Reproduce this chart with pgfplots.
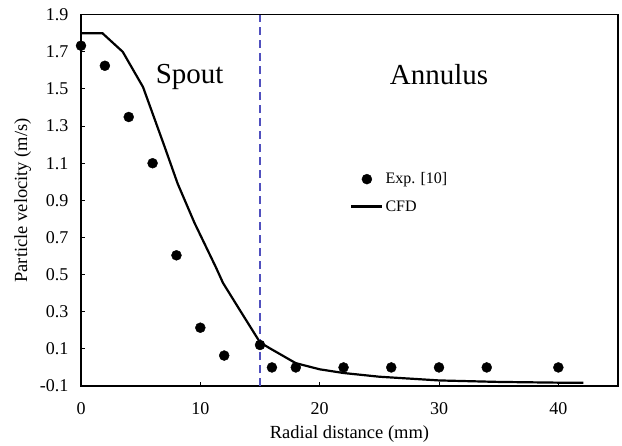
\documentclass[border=0pt]{standalone}
\usepackage{pgfplots}
\pgfplotsset{compat=1.18}
\usepackage{fontspec}
\setmainfont{Liberation Serif}
\definecolor{dashblue}{RGB}{80,80,190}
\begin{document}
\begin{tikzpicture}
\begin{axis}[
  scale only axis, width=537pt, height=371.3pt,
  xmin=0, xmax=45, ymin=-0.1, ymax=1.9,
  xtick={0,10,20,30,40}, xticklabels={0,10,20,30,40},
  ytick={-0.1,0.1,0.3,0.5,0.7,0.9,1.1,1.3,1.5,1.7,1.9},
  yticklabels={-0.1,0.1,0.3,0.5,0.7,0.9,1.1,1.3,1.5,1.7,1.9},
  tick pos=left, tick align=inside, major tick length=4pt,
  tick style={black, line width=1pt},
  axis line style={line width=1.4pt},
  tick label style={font=\fontsize{18}{18}\selectfont},
  xticklabel style={yshift=-13pt},
  yticklabel style={xshift=-9pt},
  xlabel={Radial distance (mm)}, ylabel={Particle velocity (m/s)},
  label style={font=\fontsize{18.5}{18.5}\selectfont},
  xlabel style={yshift=-4pt},
  ylabel style={yshift=2pt},
  legend style={at={(axis cs:22.55,1.06)}, anchor=north west, draw=none, fill=none,
    font=\fontsize{16}{16}\selectfont, row sep=11pt, inner sep=0pt},
  legend cell align=left,
  legend image code/.code={\draw[mark repeat=2,mark phase=2,#1] plot coordinates {(0pt,0pt) (15.5pt,0pt) (31pt,0pt)};},
]
\addplot[only marks, mark=*, mark size=5pt, black] coordinates {
  (0,1.733) (2,1.625) (4,1.349) (6,1.10) (8,0.604) (10,0.214) (12,0.064)
  (15,0.121) (16,0.0) (18,0.0) (22,0.0) (26,0.0) (30,0.0) (34,0.0) (40,0.0)
};
\addlegendentry{Exp. [10]}
\addplot[black, line width=2.2pt, no marks] coordinates {
  (0,1.8) (1.8,1.8) (3.5,1.7) (5.2,1.51) (7,1.19) (8.1,0.99) (9.5,0.78)
  (11.3,0.54) (11.9,0.455) (13.3,0.31) (15,0.135) (15.8,0.104) (18,0.023)
  (20,-0.01) (22,-0.03) (25,-0.05) (30,-0.07) (35,-0.078) (40,-0.082) (42.1,-0.083)
};
\addlegendentry{CFD}
\addplot[dashblue, line width=1.6pt, dash pattern=on 8pt off 5pt, forget plot] coordinates {(15,-0.1) (15,1.9)};
\node[font=\fontsize{29}{29}\selectfont] at (axis cs:9.1,1.565) {Spout};
\node[font=\fontsize{29}{29}\selectfont] at (axis cs:30,1.575) {Annulus};
\coordinate (sw) at (rel axis cs:0,0);
\coordinate (ne) at (rel axis cs:1,1);
\end{axis}
\pgfresetboundingbox
\path ([shift={(-81pt,-59pt)}]sw) rectangle ([shift={(4pt,14.7pt)}]ne);
\end{tikzpicture}
\end{document}
